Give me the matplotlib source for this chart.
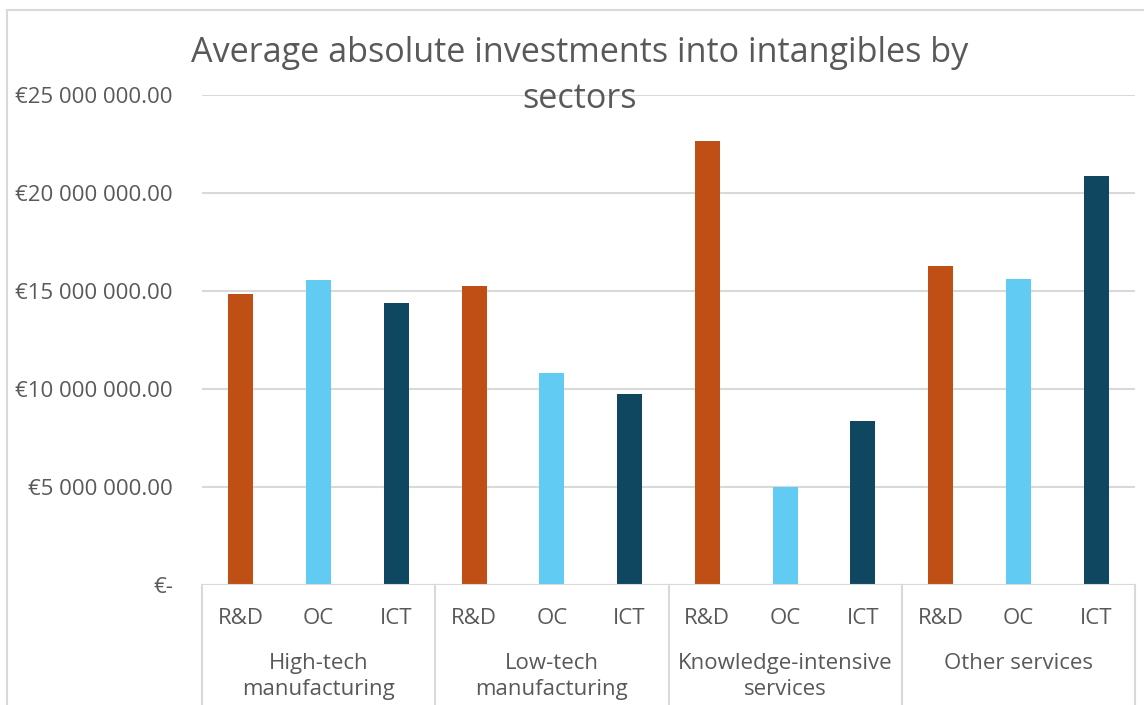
import matplotlib
matplotlib.use('Agg')
import matplotlib.pyplot as plt
from matplotlib.patches import Rectangle
from matplotlib.ticker import FuncFormatter
import matplotlib.transforms as mtransforms

# ── Data ─────────────────────────────────────────────────────────────────────
sectors = ['High-tech\nmanufacturing', 'Low-tech\nmanufacturing',
           'Knowledge-intensive\nservices', 'Other services']
types = ['R&D', 'OC', 'ICT']
rd = [14.85e6, 15.26e6, 22.65e6, 16.28e6]
oc = [15.56e6, 10.82e6, 5.0e6, 15.61e6]
ict = [14.39e6, 9.74e6, 8.37e6, 20.87e6]

colors = {'R&D': '#C04F15', 'OC': '#61CBF3', 'ICT': '#0F4761'}
TXT = '#595959'
GRID = '#D9D9D9'

plt.rcParams['font.family'] = ['Open Sans', 'DejaVu Sans']

fig = plt.figure(figsize=(11.44, 7.05), dpi=100)
ax = fig.add_axes([202 / 1144, 1 - 585 / 705, 933 / 1144, 490 / 705])

# chart frame (top + left edges visible)
fig.patches.append(Rectangle((7 / 1144, -0.1), 1.2, 1 - 10 / 705 + 0.1,
                             transform=fig.transFigure, fill=False,
                             edgecolor=GRID, lw=1.5, zorder=0))

# ── Bars ─────────────────────────────────────────────────────────────────────
series = {'R&D': rd, 'OC': oc, 'ICT': ict}
for g in range(len(sectors)):
    for j, t in enumerate(types):
        x = g * 3 + j
        ax.bar(x, series[t][g], width=0.32, color=colors[t], zorder=3)

ax.set_xlim(-0.5, 11.5)
ax.set_ylim(0, 25e6)
ax.set_yticks([0, 5e6, 10e6, 15e6, 20e6, 25e6])


def euro(v, pos):
    if v == 0:
        return '€-'
    return '€' + f'{v:,.2f}'.replace(',', ' ')


ax.yaxis.set_major_formatter(FuncFormatter(euro))
ax.tick_params(axis='y', length=0, pad=21, labelsize=16, labelcolor=TXT)
ax.set_xticks([])
ax.grid(axis='y', color=GRID, lw=1.5, zorder=0)
for s in ax.spines.values():
    s.set_visible(False)
ax.axhline(0, color=GRID, lw=1.5, zorder=4)

# ── Two-level category axis ──────────────────────────────────────────────────
trans = mtransforms.blended_transform_factory(ax.transData, ax.transAxes)
for xs in [-0.5, 2.5, 5.5, 8.5, 11.5]:
    ax.plot([xs, xs], [0, -0.3], color=GRID, lw=1.5, transform=trans,
            clip_on=False)

for g, name in enumerate(sectors):
    for j, t in enumerate(types):
        ax.text(g * 3 + j, -33 / 490, t, transform=trans, ha='center',
                va='center', fontsize=16, color=TXT)
    ax.text(g * 3 + 1, -68 / 490, name, transform=trans, ha='center',
            va='top', fontsize=16, color=TXT, linespacing=1.3)

fig.text(580 / 1144, 1 - 76 / 705,
         'Average absolute investments into intangibles by\nsectors',
         ha='center', va='center', fontsize=24.6, color=TXT, linespacing=1.45)

fig.savefig('out.png', dpi=100)
